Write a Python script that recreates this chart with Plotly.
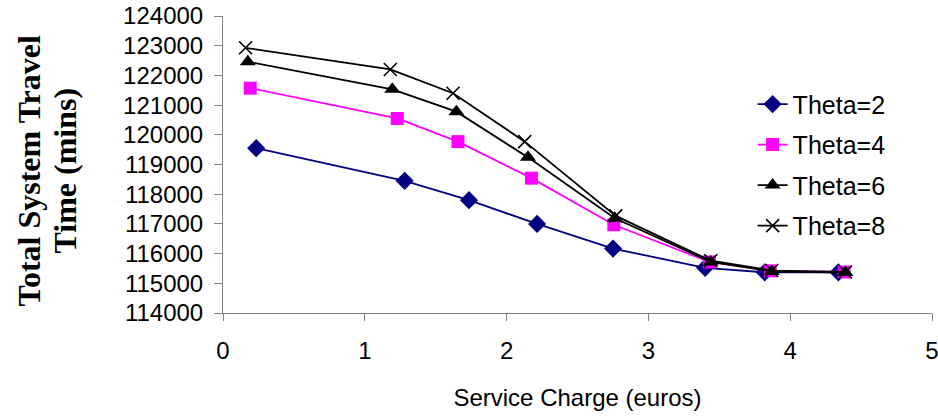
import plotly.graph_objects as go

series_names = ["Theta=2", "Theta=4", "Theta=6", "Theta=8"]

x_theta2 = [0.234, 1.281, 1.735, 2.215, 2.751, 3.40, 3.82, 4.34]
y_theta2 = [119550, 118450, 117800, 117000, 116170, 115520, 115370, 115370]

x_theta4 = [0.192, 1.229, 1.657, 2.175, 2.756, 3.43, 3.86, 4.38]
y_theta4 = [121570, 120550, 119770, 118540, 116970, 115720, 115420, 115380]

x_theta6 = [0.175, 1.194, 1.646, 2.151, 2.763, 3.44, 3.87, 4.39]
y_theta6 = [122460, 121530, 120780, 119240, 117190, 115720, 115400, 115360]

x_theta8 = [0.159, 1.180, 1.622, 2.128, 2.770, 3.44, 3.87, 4.39]
y_theta8 = [122930, 122200, 121400, 119770, 117270, 115760, 115430, 115380]

x_ticks = [0, 1, 2, 3, 4, 5]
y_ticks = [114000, 115000, 116000, 117000, 118000, 119000, 120000, 121000, 122000, 123000, 124000]

y_title_lines = ["Total System Travel", "Time (mins)"]
x_title = "Service Charge (euros)"

styles = [
    dict(color="#000080", symbol="diamond", size=14, lw=1.8),
    dict(color="#FF00FF", symbol="square", size=13, lw=1.8),
    dict(color="#000000", symbol="triangle-up", size=14, lw=1.8),
    dict(color="#000000", symbol="x-thin-open", size=13, lw=1.8),
]
data = [(x_theta2, y_theta2), (x_theta4, y_theta4), (x_theta6, y_theta6), (x_theta8, y_theta8)]

fig = go.Figure()
for name, (xs, ys), st in zip(series_names, data, styles):
    marker = dict(symbol=st["symbol"], size=st["size"], color=st["color"])
    if st["symbol"] == "x-thin-open":
        marker["line"] = dict(color=st["color"], width=1.6)
    fig.add_trace(go.Scatter(
        x=xs, y=ys, mode="lines+markers", name=name, legendgroup=name,
        line=dict(color=st["color"], width=st["lw"]),
        marker=marker,
    ))

axis_font = dict(family="Liberation Sans, Arial, sans-serif", size=24, color="#000000")
title_font = dict(family="Liberation Serif, Times New Roman, serif", size=32, color="#000000", weight="bold")

fig.update_layout(
    width=938, height=417,
    margin=dict(l=223, r=6, t=16, b=104, autoexpand=False),
    paper_bgcolor="white", plot_bgcolor="white",
    showlegend=True,
    legend=dict(
        x=0.747, y=0.78, xanchor="left", yanchor="top",
        font=dict(family="Liberation Sans, Arial, sans-serif", size=25, color="#000000"),
        bgcolor="rgba(0,0,0,0)", borderwidth=0,
        traceorder="grouped", tracegroupgap=5,
    ),
    xaxis=dict(
        range=[0, 5], tickvals=x_ticks, ticktext=[str(v) for v in x_ticks],
        showgrid=False, zeroline=False, showline=True, linecolor="#808080", linewidth=1,
        ticks="outside", ticklen=7, tickcolor="#808080", tickfont=axis_font,
        ticklabelstandoff=9, ticklabeloverflow="allow", automargin=False,
        title=dict(text=x_title, font=axis_font, standoff=26),
    ),
    yaxis=dict(
        range=[114000, 124000], tickvals=y_ticks, ticktext=[str(v) for v in y_ticks],
        showgrid=False, zeroline=False, showline=True, linecolor="#808080", linewidth=1,
        ticks="outside", ticklen=8, tickcolor="#808080", tickfont=axis_font,
        ticklabelstandoff=6, ticklabeloverflow="allow", automargin=False,
    ),
    annotations=[
        dict(text=y_title_lines[0], xref="paper", yref="paper", x=0, y=0.5, xshift=-195, yshift=-6,
             xanchor="center", yanchor="middle", textangle=-90, showarrow=False, font=title_font),
        dict(text=y_title_lines[1], xref="paper", yref="paper", x=0, y=0.5, xshift=-159, yshift=-6,
             xanchor="center", yanchor="middle", textangle=-90, showarrow=False, font=title_font),
    ],
)

fig.write_html("out.html", config={"displayModeBar": False},
               post_script="document.body.style.margin='0';")
